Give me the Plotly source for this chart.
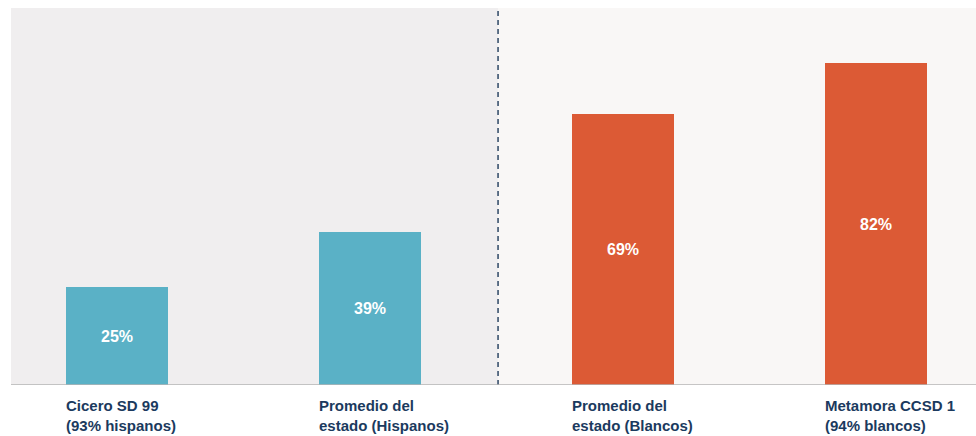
import plotly.graph_objects as go

categories = ["Cicero SD 99<br>(93% hispanos)", "Promedio del<br>estado (Hispanos)",
              "Promedio del<br>estado (Blancos)", "Metamora CCSD 1<br>(94% blancos)"]
values = [25, 39, 69, 82]
value_labels = ["25%", "39%", "69%", "82%"]
colors = ["#5ab1c6", "#5ab1c6", "#dc5a35", "#dc5a35"]

x = list(range(len(categories)))
bar_w = 0.403

fig = go.Figure()
fig.add_trace(go.Bar(
    x=x, y=values, width=bar_w, marker=dict(color=colors, line=dict(width=0)),
    text=value_labels, textposition="inside", insidetextanchor="middle",
    textfont=dict(family="Liberation Sans", size=16, color="white", weight="bold"),
    hoverinfo="skip", cliponaxis=False,
))

shapes = [
    dict(type="rect", xref="x", yref="paper", x0=-0.45, x1=1.506, y0=0, y1=1,
         fillcolor="#f0eeef", line=dict(width=0), layer="below"),
    dict(type="rect", xref="x", yref="paper", x0=1.506, x1=3.5, y0=0, y1=1,
         fillcolor="#f9f7f6", line=dict(width=0), layer="below"),
    dict(type="line", xref="x", yref="paper", x0=1.506, x1=1.506, y0=0, y1=1,
         line=dict(color="#1f3b5a", width=1.4, dash="5px,4px")),
    dict(type="line", xref="paper", yref="y", x0=0, x1=1, y0=0, y1=0,
         line=dict(color="#b5b5b5", width=1.5)),
]

annotations = []
for i, c in enumerate(categories):
    annotations.append(dict(
        x=i - bar_w / 2, y=0, xref="x", yref="y", text=c, showarrow=False,
        xanchor="left", yanchor="top", align="left", yshift=-10, xshift=-2,
        font=dict(family="Liberation Sans", size=15, color="#1b3a5e", weight="bold"),
    ))

fig.update_layout(
    width=976, height=436,
    margin=dict(l=11, r=0, t=8, b=51),
    paper_bgcolor="white", plot_bgcolor="#f9f7f6",
    showlegend=False,
    shapes=shapes, annotations=annotations,
    xaxis=dict(range=[-0.419, 3.395], showticklabels=False, showgrid=False,
               zeroline=False, showline=False, fixedrange=True),
    yaxis=dict(range=[0, 96], showticklabels=False, showgrid=False,
               zeroline=False, showline=False, fixedrange=True),
    bargap=0,
)

fig.write_html("out.html", config={"displayModeBar": False},
               post_script="document.body.style.margin='0';document.body.style.padding='0';")
